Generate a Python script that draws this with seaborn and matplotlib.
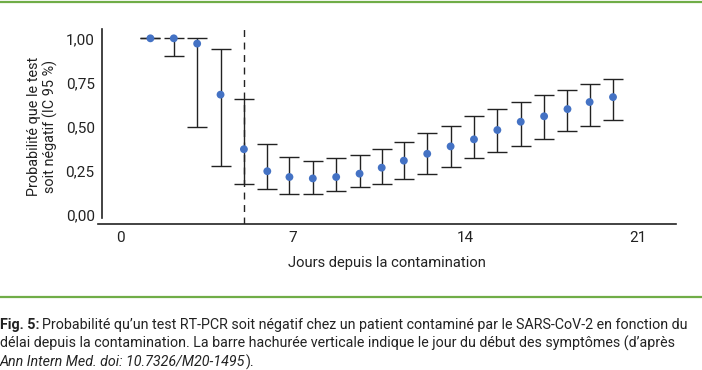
import matplotlib
matplotlib.use("Agg")
import matplotlib.pyplot as plt
import seaborn as sns
import numpy as np
import pandas as pd

# values
jours = [1.2, 2.15, 3.1, 4.05, 5.0, 5.95, 6.85, 7.8, 8.75, 9.7, 10.6,
         11.5, 12.45, 13.4, 14.35, 15.3, 16.25, 17.2, 18.15, 19.05, 20.0]
proba = [1.00, 1.00, 0.97, 0.68, 0.37, 0.245, 0.212, 0.204, 0.212, 0.231, 0.265,
         0.305, 0.344, 0.386, 0.426, 0.479, 0.526, 0.557, 0.598, 0.638, 0.666]
ic_bas = [1.00, 0.90, 0.496, 0.276, 0.174, 0.142, 0.115, 0.115, 0.131, 0.155, 0.174,
          0.201, 0.227, 0.269, 0.318, 0.352, 0.386, 0.430, 0.472, 0.503, 0.534]
ic_haut = [1.00, 1.00, 1.00, 0.94, 0.653, 0.398, 0.327, 0.305, 0.318, 0.339, 0.371,
           0.409, 0.464, 0.502, 0.557, 0.598, 0.638, 0.680, 0.708, 0.739, 0.769]
debut_symptomes = 5.0
xticks = [0, 7, 14, 21]
yticks = [0, 0.25, 0.5, 0.75, 1.0]
ytick_labels = ["0,00", "0,25", "0,50", "0,75", "1,00"]

df = pd.DataFrame({"jour": jours, "p": proba, "bas": ic_bas, "haut": ic_haut})

sns.set_style("white")
plt.rcParams["font.family"] = ["Roboto", "DejaVu Sans"]
encre = "#222222"

fig = plt.figure(figsize=(7.02, 3.70), dpi=100)
ax = fig.add_axes([98 / 702, 146 / 370, 578 / 702, 195 / 370])

yerr = np.vstack([df["p"] - df["bas"], df["haut"] - df["p"]])
ax.errorbar(df["jour"], df["p"], yerr=yerr, fmt="none", ecolor=encre,
            elinewidth=1.0, capsize=7.2, capthick=1.0, zorder=2)
sns.scatterplot(data=df, x="jour", y="p", ax=ax, color="#4472C4", s=32,
                edgecolor="none", zorder=3, legend=False)
ax.axvline(debut_symptomes, color=encre, lw=1.0, ls=(0, (5, 4)), zorder=1)

ax.set_xlim(-0.93, 22.56)
ax.set_ylim(-0.055, 1.053)
ax.set_xticks(xticks)
ax.set_yticks(yticks)
ax.set_yticklabels(ytick_labels)
for s in ["top", "right"]:
    ax.spines[s].set_visible(False)
ax.spines["left"].set_position(("data", -0.78))
ax.spines["left"].set_bounds(-0.022, 1.053)
for s in ["left", "bottom"]:
    ax.spines[s].set_color(encre)
    ax.spines[s].set_linewidth(1.2)
ax.tick_params(axis="x", direction="in", length=4, width=1.1, colors=encre,
               labelsize=11, pad=5)
ax.tick_params(axis="y", direction="out", length=3, width=1.1, colors=encre,
               labelsize=11, pad=2)
ax.set_xlabel("Jours depuis la contamination", fontsize=10.6, color=encre, labelpad=8)
ax.set_ylabel("Probabilité que le test\nsoit négatif (IC 95 %)", fontsize=10.4,
              color=encre, linespacing=1.1)
ax.yaxis.set_label_coords(-0.07, 0.5)

# green rules
vert = "#70AD47"
fig.add_artist(plt.Line2D([0, 1], [1 - 2 / 370, 1 - 2 / 370], color=vert, lw=1.6))
fig.add_artist(plt.Line2D([0, 1], [1 - 297 / 370, 1 - 297 / 370], color=vert, lw=1.6))

# caption, pieces placed one after another
taille = 10.3
y1 = 1 - 325 / 370
dy = 18.5 / 370
fig.canvas.draw()
rend = fig.canvas.get_renderer()


def suite(x, y, texte, **kw):
    t = fig.text(x, y, texte, fontsize=taille, color=encre, va="center", **kw)
    bb = t.get_window_extent(renderer=rend)
    return bb.x1 / fig.bbox.width


x = suite(0.0, y1, "Fig. 5:", fontweight="bold")
suite(x + 0.004, y1, "Probabilité qu’un test RT-PCR soit négatif chez un patient contaminé "
      "par le SARS-CoV-2 en fonction du")
suite(0.0, y1 - dy, "délai depuis la contamination. La barre hachurée verticale indique "
      "le jour du début des symptômes (d’après")
x = suite(0.0, y1 - 2 * dy, "Ann Intern Med. doi: 10.7326/M20-1495", style="italic")
suite(x + 0.001, y1 - 2 * dy, ").")

fig.savefig("out.png", dpi=100)
